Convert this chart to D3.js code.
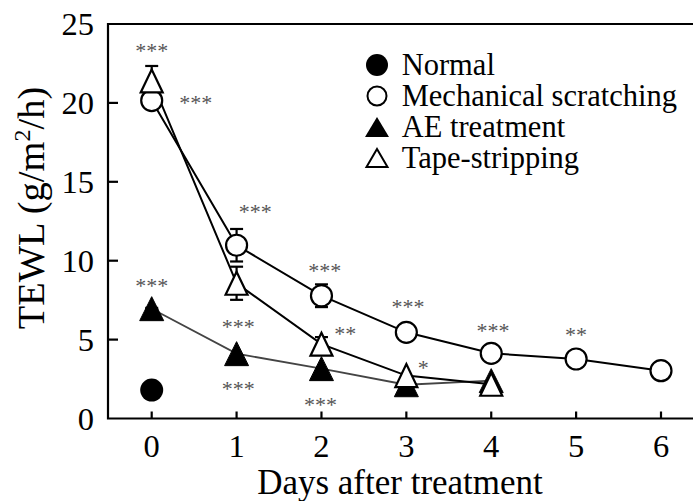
<!DOCTYPE html>
<html lang="en">
<head>
    <meta charset="UTF-8">
    <script src="https://d3js.org/d3.v7.min.js"></script>
    <style>
        body { margin: 0; background: #fff; }
        svg { font-family: "Liberation Serif", "Times New Roman", serif; }
        .tick-label { font-size: 32.5px; fill: #000; }
        .axis-title { font-size: 35px; fill: #000; }
        .legend-text { font-size: 30.5px; fill: #000; }
        .star { font-size: 22px; fill: #555; text-anchor: middle; }
    </style>
</head>
<body>
    <svg id="chart"></svg>
    <script>
        // data
        const days = [0, 1, 2, 3, 4, 5, 6];
        const normal = [1.8];
        const mechanical = [20.15, 10.98, 7.78, 5.46, 4.13, 3.77, 3.03];
        const mechanicalErr = [0, 1.03, 0.72, 0, 0, 0, 0];
        const aeTreatment = [6.96, 4.11, 3.16, 2.14, 2.4];
        const aeErr = [0.05, 0, 0, 0, 0];
        const tapeStripping = [21.39, 8.57, 4.71, 2.72, 2.17];
        const tapeErr = [0.95, 1.05, 0.45, 0, 0];
        const yTicks = [0, 5, 10, 15, 20, 25];
        const xTicks = [0, 1, 2, 3, 4, 5, 6];
        const legendNames = ["Normal", "Mechanical scratching", "AE treatment", "Tape-stripping"];
        // significance marks, placed in data units (day, TEWL)
        const stars = [
            { day: 0, val: 23.5, text: "***" },
            { day: 0.52, val: 20.2, text: "***" },
            { day: 1.22, val: 13.3, text: "***" },
            { day: 0, val: 8.65, text: "***" },
            { day: 1.02, val: 6.05, text: "***" },
            { day: 1.02, val: 2.12, text: "***" },
            { day: 2.04, val: 9.6, text: "***" },
            { day: 2.28, val: 5.6, text: "**" },
            { day: 1.99, val: 1.05, text: "***" },
            { day: 3.02, val: 7.3, text: "***" },
            { day: 3.2, val: 3.4, text: "*" },
            { day: 4.02, val: 5.75, text: "***" },
            { day: 5.0, val: 5.5, text: "**" }
        ];

        const width = 693, height = 501;
        const frame = { left: 108, top: 24, bottom: 418.5, right: 705 };

        const svg = d3.select("#chart")
            .attr("width", width)
            .attr("height", height);

        const x = d3.scaleLinear().domain([0, 6]).range([151.7, 661]);
        const y = d3.scaleLinear().domain([0, 25]).range([frame.bottom, frame.top]);

        // triangle centred on its bounding box
        function tri(w, h) {
            return `M0,${-h / 2}L${w / 2},${h / 2}L${-w / 2},${h / 2}Z`;
        }

        // frame
        svg.append("path")
            .attr("d", `M${frame.right},${frame.top}H${frame.left}V${frame.bottom}H${frame.right}`)
            .attr("fill", "none")
            .attr("stroke", "#000")
            .attr("stroke-width", 2.2);

        // y ticks (inward)
        svg.selectAll(".ytick")
            .data(yTicks.filter(d => d > 0 && d < 25))
            .enter().append("line")
            .attr("x1", frame.left).attr("x2", frame.left + 10)
            .attr("y1", d => y(d)).attr("y2", d => y(d))
            .attr("stroke", "#000").attr("stroke-width", 2.2);

        svg.selectAll(".ylab")
            .data(yTicks)
            .enter().append("text")
            .attr("class", "tick-label")
            .attr("x", 94)
            .attr("y", d => y(d))
            .attr("dy", "0.34em")
            .attr("text-anchor", "end")
            .text(d => d);

        // x ticks (inward)
        svg.selectAll(".xtick")
            .data(xTicks)
            .enter().append("line")
            .attr("x1", d => x(d)).attr("x2", d => x(d))
            .attr("y1", frame.bottom).attr("y2", frame.bottom - 7)
            .attr("stroke", "#000").attr("stroke-width", 2.2);

        svg.selectAll(".xlab")
            .data(xTicks)
            .enter().append("text")
            .attr("class", "tick-label")
            .attr("x", d => x(d))
            .attr("y", 457)
            .attr("text-anchor", "middle")
            .text(d => d);

        // axis titles
        svg.append("text")
            .attr("class", "axis-title")
            .attr("x", 400).attr("y", 494)
            .attr("text-anchor", "middle")
            .text("Days after treatment");

        const yt = svg.append("text")
            .attr("class", "axis-title")
            .style("font-size", "38.5px")
            .attr("transform", "translate(44,208) rotate(-90)")
            .attr("text-anchor", "middle");
        yt.append("tspan").text("TEWL (g/m");
        yt.append("tspan").attr("dy", -14).style("font-size", "24px").text("2");
        yt.append("tspan").attr("dy", 14).text("/h)");

        // lines
        const line = d3.line().x((d, i) => x(days[i])).y(d => y(d));
        svg.append("path").datum(aeTreatment)
            .attr("d", line).attr("fill", "none")
            .attr("stroke", "#444").attr("stroke-width", 1.8);
        svg.append("path").datum(mechanical)
            .attr("d", line).attr("fill", "none")
            .attr("stroke", "#000").attr("stroke-width", 2);
        svg.append("path").datum(tapeStripping)
            .attr("d", line).attr("fill", "none")
            .attr("stroke", "#000").attr("stroke-width", 2);

        // error bars
        function errBars(vals, errs) {
            const d = vals.map((v, i) => ({ i, v, e: errs[i] })).filter(d => d.e > 0);
            const g = svg.append("g").attr("stroke", "#000").attr("stroke-width", 2.2);
            d.forEach(p => {
                const cx = x(days[p.i]);
                g.append("line").attr("x1", cx).attr("x2", cx)
                    .attr("y1", y(p.v - p.e)).attr("y2", y(p.v + p.e));
                [p.v - p.e, p.v + p.e].forEach(t => {
                    g.append("line").attr("x1", cx - 6.5).attr("x2", cx + 6.5)
                        .attr("y1", y(t)).attr("y2", y(t));
                });
            });
        }
        errBars(aeTreatment, aeErr);
        errBars(mechanical, mechanicalErr);
        errBars(tapeStripping, tapeErr);

        // markers
        svg.selectAll(".normal").data(normal).enter().append("circle")
            .attr("cx", (d, i) => x(days[i])).attr("cy", d => y(d))
            .attr("r", 11.5).attr("fill", "#000");

        svg.selectAll(".ae").data(aeTreatment).enter().append("path")
            .attr("d", tri(24, 24))
            .attr("transform", (d, i) => `translate(${x(days[i])},${y(d)})`)
            .attr("fill", "#000").attr("stroke", "#000").attr("stroke-width", 1);

        svg.selectAll(".mech").data(mechanical).enter().append("circle")
            .attr("cx", (d, i) => x(days[i])).attr("cy", d => y(d))
            .attr("r", 10.5).attr("fill", "#fff")
            .attr("stroke", "#000").attr("stroke-width", 2.2);

        svg.selectAll(".tape").data(tapeStripping).enter().append("path")
            .attr("d", tri(22, 23))
            .attr("transform", (d, i) => `translate(${x(days[i])},${y(d)})`)
            .attr("fill", "#fff").attr("stroke", "#000").attr("stroke-width", 2.2)
            .attr("stroke-linejoin", "miter");

        // significance marks
        svg.selectAll(".star").data(stars).enter().append("text")
            .attr("class", "star")
            .attr("x", d => x(d.day)).attr("y", d => y(d.val) + 10.5)
            .text(d => d.text);

        // legend
        const lg = svg.append("g");
        const rowY = i => 65 + i * 31;
        legendNames.forEach((name, i) => {
            const cy = rowY(i);
            if (i === 0) {
                lg.append("circle").attr("cx", 377).attr("cy", cy).attr("r", 11).attr("fill", "#000");
            } else if (i === 1) {
                lg.append("circle").attr("cx", 377).attr("cy", cy).attr("r", 9.5)
                    .attr("fill", "#fff").attr("stroke", "#000").attr("stroke-width", 2);
            } else if (i === 2) {
                lg.append("path").attr("d", tri(24, 20))
                    .attr("transform", `translate(377,${cy})`).attr("fill", "#000");
            } else {
                lg.append("path").attr("d", tri(21, 18))
                    .attr("transform", `translate(377,${cy})`)
                    .attr("fill", "#fff").attr("stroke", "#000").attr("stroke-width", 2);
            }
            lg.append("text").attr("class", "legend-text")
                .attr("x", 401.7).attr("y", cy + 10)
                .text(name);
        });
    </script>
</body>
</html>
